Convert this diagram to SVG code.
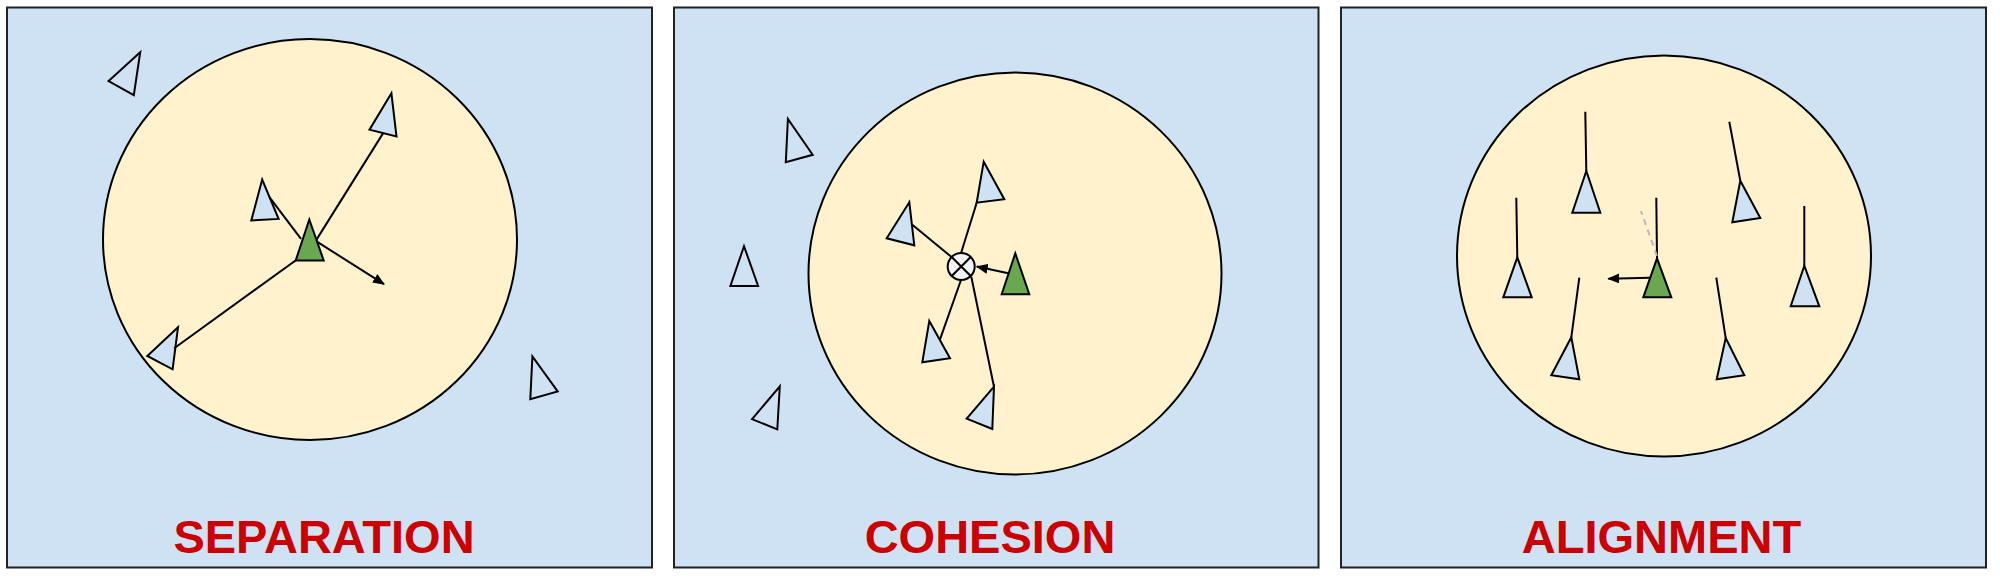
<svg xmlns="http://www.w3.org/2000/svg" width="2000" height="578" viewBox="0 0 2000 578">
<defs>
<style>
.panel{fill:#cfe2f3;stroke:#222;stroke-width:2}
.zone{fill:#fff2cc;stroke:#000;stroke-width:2}
.boid{fill:#cfe2f3;stroke:#000;stroke-width:2;stroke-linejoin:miter}
.me{fill:#6aa84f;stroke:#000;stroke-width:2}
.ln{stroke:#000;stroke-width:2;fill:none}
.arr{stroke:#000;stroke-width:2;fill:none;marker-end:url(#ah)}
.dash{stroke:#b7b7b7;stroke-width:2;stroke-dasharray:6 5;fill:none}
.ctr{fill:#f3f3f3;stroke:#000;stroke-width:2}
.title{font-family:"Liberation Sans",Arial,sans-serif;font-weight:bold;font-size:47px;fill:#cc0000;text-anchor:middle}
</style>
<marker id="ah" markerWidth="12" markerHeight="10" refX="11" refY="5" orient="auto" markerUnits="userSpaceOnUse">
<path d="M0,0 L12,5 L0,10 Z" fill="#000"/>
</marker>
</defs>

<g id="separation">
<rect class="panel" x="7" y="7.5" width="645" height="560"/>
<ellipse class="zone" cx="310" cy="239.5" rx="207" ry="200.5"/>
<polygon class="boid" points="140.2,52.3 108.6,81.1 133.8,95.1"/>
<polygon class="boid" points="532.4,356.4 530.3,399.2 557.7,391.4"/>
<polygon class="boid" points="391.4,93.3 369.5,129.7 396.5,136.4"/>
<polygon class="boid" points="262.2,179.5 251.3,220.4 278.6,218.9"/>
<polygon class="boid" points="178,327.3 147.3,356 172.6,369.3"/>
<g class="connectors">
<line class="ln" x1="383" y1="133.4" x2="316.5" y2="239.6"/>
<line class="ln" x1="269.4" y1="197.2" x2="301" y2="238.8"/>
<line class="ln" x1="174.2" y1="348.3" x2="295.9" y2="260.2"/>
</g>
<polygon class="me" points="309.3,219.5 295.7,260.5 323.7,260.5"/>
<line class="arr" x1="316.5" y1="241.4" x2="384" y2="284.2"/>
<text class="title" x="324" y="553">SEPARATION</text>
</g>

<g id="cohesion">
<rect class="panel" x="674" y="7.5" width="644.5" height="560"/>
<ellipse class="zone" cx="1015" cy="273.5" rx="206.5" ry="201"/>
<polygon class="boid" points="787.9,119 785.8,162.2 812.7,154.8"/>
<polygon class="boid" points="744,246.2 730.4,286 758.1,286"/>
<polygon class="boid" points="779.8,386.3 752.1,419.1 777.3,429.4"/>
<polygon class="boid" points="983.7,161.7 976.7,202.7 1004.3,199.3"/>
<polygon class="boid" points="909.3,202.3 886.7,238.3 914.3,245.3"/>
<polygon class="boid" points="929.3,321 922.3,362.3 950,358.3"/>
<polygon class="boid" points="994,386.7 966.7,418.7 992.3,429"/>
<g class="connectors">
<line class="ln" x1="976.7" y1="202.7" x2="961" y2="253.3"/>
<line class="ln" x1="912.3" y1="224.7" x2="951.5" y2="257"/>
<line class="ln" x1="940" y1="339.3" x2="961" y2="280"/>
<line class="ln" x1="994" y1="386.7" x2="971.3" y2="276.7"/>
</g>
<g id="centroid">
<circle class="ctr" cx="961.2" cy="266.5" r="13.5"/>
<line class="ln" x1="951.7" y1="257" x2="970.7" y2="276"/>
<line class="ln" x1="970.7" y1="257" x2="951.7" y2="276"/>
</g>
<polygon class="me" points="1015.3,253.3 1001.7,294.3 1029.3,294.3"/>
<line class="arr" x1="1008.3" y1="273.3" x2="976.8" y2="266.6"/>
<text class="title" x="990" y="553">COHESION</text>
</g>

<g id="alignment">
<rect class="panel" x="1341" y="7.5" width="645" height="560"/>
<ellipse class="zone" cx="1664" cy="256" rx="207" ry="200.5"/>
<g class="connectors">
<line class="ln" x1="1586.3" y1="171" x2="1585.3" y2="111.7"/>
<line class="ln" x1="1517.3" y1="257.3" x2="1516.3" y2="197.7"/>
<line class="ln" x1="1571.3" y1="337.3" x2="1579.3" y2="277.7"/>
<line class="ln" x1="1740.3" y1="180.7" x2="1729.3" y2="121.7"/>
<line class="ln" x1="1725.7" y1="338" x2="1716.3" y2="277.7"/>
<line class="ln" x1="1804.3" y1="265.7" x2="1804.3" y2="206"/>
<line class="ln" x1="1657" y1="258.3" x2="1656.3" y2="197.7"/>
<line class="dash" x1="1657" y1="256" x2="1641" y2="211"/>
</g>
<polygon class="boid" points="1586.3,171 1572.3,212.7 1600.3,212.7"/>
<polygon class="boid" points="1517.3,257.3 1503.3,297.3 1531.7,297.3"/>
<polygon class="boid" points="1571.3,337.3 1551.3,375.3 1579.3,379.3"/>
<polygon class="boid" points="1740.3,180.7 1732.3,222.3 1760.3,218"/>
<polygon class="boid" points="1725.7,338 1716.7,379.3 1744.3,375.3"/>
<polygon class="boid" points="1804.3,265.7 1790.7,306.3 1819.3,306.3"/>
<polygon class="me" points="1657,258.3 1643.3,297.3 1671.3,297.3"/>
<line class="arr" x1="1650" y1="277.7" x2="1608.3" y2="278.7"/>
<text class="title" x="1661.5" y="553">ALIGNMENT</text>
</g>
</svg>
